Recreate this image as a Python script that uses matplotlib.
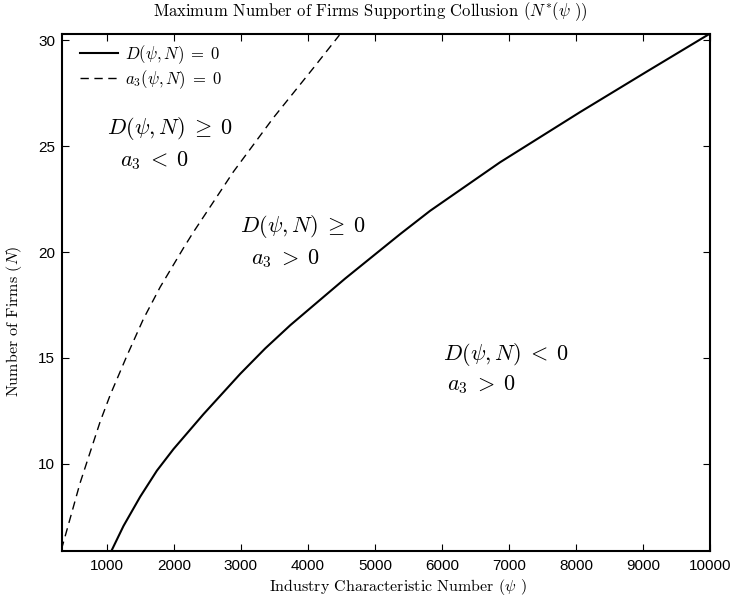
import matplotlib
matplotlib.use("Agg")
import matplotlib.pyplot as plt

# D(psi, N) = 0 boundary (solid)
psi_D = [1040, 1075, 1248, 1497, 1746, 1994, 2442, 2989, 3362, 3737, 4555, 5376, 5823,
         6866, 8060, 9054, 10000]
N_D = [5.75, 5.94, 7.07, 8.45, 9.68, 10.70, 12.35, 14.25, 15.45, 16.55, 18.75, 20.85, 21.95,
       24.24, 26.61, 28.52, 30.32]

# a3(psi, N) = 0 boundary (dashed)
psi_a3 = [320, 352, 600, 900, 1049, 1298, 1546, 1795, 2144, 2292, 2889, 3486, 4083, 4470]
N_a3 = [5.95, 6.30, 9.10, 12.00, 13.25, 15.10, 16.85, 18.35, 20.20, 20.95, 23.80, 26.35,
        28.70, 30.25]

x_ticks = [1000, 2000, 3000, 4000, 5000, 6000, 7000, 8000, 9000, 10000]
y_ticks = [10, 15, 20, 25, 30]

title = r"Maximum Number of Firms Supporting Collusion ($N^{*}(\psi\ )$)"
xlabel = r"Industry Characteristic Number ($\psi$ )"
ylabel = r"Number of Firms ($N$)"
legend_labels = [r"$D(\psi,N)\;=\;0$", r"$a_3(\psi,N)\;=\;0$"]
region_texts = [
    (r"$D(\psi,N)\;\geq\;0$", r"$a_3\;<\;0$", 1000, 25.82, 1198, 24.3),
    (r"$D(\psi,N)\;\geq\;0$", r"$a_3\;>\;0$", 2990, 21.23, 3150, 19.67),
    (r"$D(\psi,N)\;<\;0$", r"$a_3\;>\;0$", 6018, 15.18, 6077, 13.76),
]

plt.rcParams['mathtext.fontset'] = 'cm'
plt.rcParams['axes.unicode_minus'] = False

fig = plt.figure(figsize=(7.36, 5.98), dpi=100)
ax = fig.add_axes([62/736, 1-550.7/598, (710-62)/736, (550.7-34)/598])

ax.plot(psi_D, N_D, color='black', lw=1.5, label=legend_labels[0])
ax.plot(psi_a3, N_a3, color='black', lw=1.0, dashes=(6, 4), label=legend_labels[1])

ax.set_xlim(330, 10000)
ax.set_ylim(5.9, 30.3)
ax.set_xticks(x_ticks)
ax.set_yticks(y_ticks)
ax.set_xticklabels([str(v) for v in x_ticks], fontfamily='Liberation Sans', fontsize=11)
ax.set_yticklabels([str(v) for v in y_ticks], fontfamily='Liberation Sans', fontsize=11)
ax.tick_params(direction='in', length=5, width=0.8, top=True, right=True)
ax.tick_params(axis='x', pad=6)
ax.tick_params(axis='y', pad=5)
for s in ax.spines.values():
    s.set_linewidth(1.5)

fig.text(370/736, 1-12/598, title, fontfamily='cmr10', fontsize=12, ha='center', va='center')
ax.set_xlabel(xlabel, fontfamily='cmr10', fontsize=11.5)
ax.xaxis.set_label_coords(0.518, -0.05)
ax.set_ylabel(ylabel, fontfamily='cmr10', fontsize=11.5)
ax.yaxis.set_label_coords(-0.058, 0.445)

for t1, t2, x1, y1, x2, y2 in region_texts:
    ax.text(x1, y1, t1, fontsize=16, ha='left', va='center')
    ax.text(x2, y2, t2, fontsize=16, ha='left', va='center')

leg = ax.legend(loc='upper left', frameon=False, fontsize=12, handlelength=2.3,
                handletextpad=0.4, borderaxespad=0.0, labelspacing=0.15,
                bbox_to_anchor=(0.017, 0.995))

fig.savefig("out.png", dpi=100)
